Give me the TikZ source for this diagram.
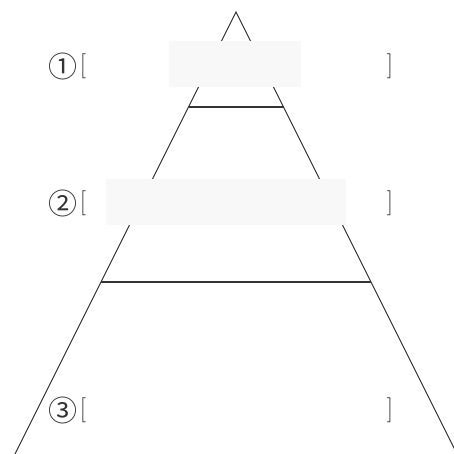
\documentclass[tikz,border=0pt]{standalone}
\usepackage{fontspec}
\newfontfamily\cjk{Noto Sans CJK JP}
\usetikzlibrary{positioning}
\definecolor{edgegray}{HTML}{333333}
\definecolor{maskgray}{HTML}{F8F8F8}
\tikzset{tri/.style={draw=edgegray, line width=1.1pt},
  mask/.style={fill=maskgray, draw=none, inner sep=0pt},
  num/.style={font=\cjk\fontsize{29}{29}\selectfont, text=edgegray, inner sep=0pt},
  brk/.style={font=\fontsize{25}{25}\selectfont, text=edgegray, inner sep=0pt}}
\newcommand{\blankrow}[3]{\node[num] (n#1) at (63,#2) {#3};
\node[brk, right=2pt of n#1] (lb#1) {[};
\node[brk] (rb#1) at (390,#2) {]};}

\begin{document}
\begin{tikzpicture}[x=1pt,y=-1pt]
\useasboundingbox (0,0) rectangle (453,454);
\coordinate (apex) at (236,12);
\coordinate (bl) at (15,454);
\coordinate (br) at (457,454);
\coordinate (l1) at (188.5,107);
\coordinate (r1) at (283.5,107);
\coordinate (l2) at (101,282);
\coordinate (r2) at (371,282);
\draw[tri] (bl) -- (apex) -- (br);
\draw[tri] (l1) -- (r1);
\draw[tri] (l2) -- (r2);
\node[mask, minimum width=132pt, minimum height=46pt] (m1) at (235,64) {};
\node[mask, minimum width=240pt, minimum height=46pt] (m2) at (226,202) {};
\blankrow{1}{66}{①}
\blankrow{2}{203}{②}
\blankrow{3}{410}{③}
\end{tikzpicture}
\end{document}
